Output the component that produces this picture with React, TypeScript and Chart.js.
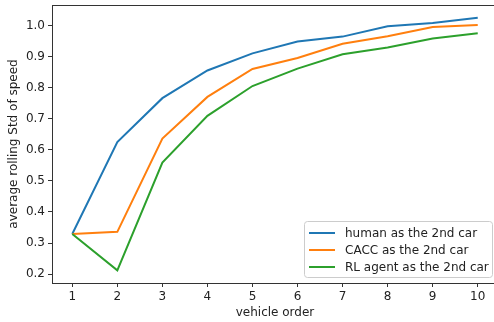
import { useEffect, useRef } from "react";
import { Chart, registerables } from "chart.js";

Chart.register(...registerables);

const vehicleOrder = [1, 2, 3, 4, 5, 6, 7, 8, 9, 10];
const humanStd = [0.329, 0.625, 0.766, 0.855, 0.91, 0.948, 0.964, 0.997, 1.008, 1.025];
const caccStd = [0.329, 0.336, 0.636, 0.77, 0.86, 0.895, 0.941, 0.965, 0.995, 1.001];
const rlStd = [0.329, 0.212, 0.559, 0.709, 0.805, 0.861, 0.907, 0.929, 0.958, 0.975];
const yTicks = [0.2, 0.3, 0.4, 0.5, 0.6, 0.7, 0.8, 0.9, 1.0];
const seriesLabels = ["human as the 2nd car", "CACC as the 2nd car", "RL agent as the 2nd car"];
const seriesColors = ["#1f77b4", "#ff7f0e", "#2ca02c"];

const FONT = "DejaVu Sans";
const TEXT = "#222222";
const SPINE = "#333333";

const framePlugin = {
  id: "frameTop",
  afterDraw(chart: any) {
    const { ctx, chartArea } = chart;
    ctx.save();
    ctx.strokeStyle = SPINE;
    ctx.lineWidth = 1;
    ctx.beginPath();
    ctx.moveTo(chartArea.left, Math.round(chartArea.top) + 0.5);
    ctx.lineTo(chartArea.right, Math.round(chartArea.top) + 0.5);
    ctx.moveTo(chartArea.right - 0.5, chartArea.top);
    ctx.lineTo(chartArea.right - 0.5, chartArea.bottom);
    ctx.stroke();
    ctx.restore();
  },
};

const legendPlugin = {
  id: "insideLegend",
  afterDraw(chart: any) {
    const { ctx, chartArea } = chart;
    const ds = chart.data.datasets;
    ctx.save();
    ctx.font = `12px "${FONT}"`;
    let maxW = 0;
    ds.forEach((d: any) => {
      maxW = Math.max(maxW, ctx.measureText(d.label).width);
    });
    const pad = 4.5;
    const handleLen = 26;
    const textPad = 10;
    const rowH = 17;
    const boxW = pad + handleLen + textPad + maxW + pad;
    const boxH = 56;
    const right = Math.round(chartArea.right - 6) + 0.5;
    const bottom = Math.round(chartArea.bottom - 6) + 0.5;
    const left = Math.round(right - boxW) + 0.5;
    const top = bottom - boxH;
    const r = 3;
    ctx.beginPath();
    ctx.moveTo(left + r, top);
    ctx.lineTo(right - r, top);
    ctx.arcTo(right, top, right, top + r, r);
    ctx.lineTo(right, bottom - r);
    ctx.arcTo(right, bottom, right - r, bottom, r);
    ctx.lineTo(left + r, bottom);
    ctx.arcTo(left, bottom, left, bottom - r, r);
    ctx.lineTo(left, top + r);
    ctx.arcTo(left, top, left + r, top, r);
    ctx.closePath();
    ctx.fillStyle = "rgba(255,255,255,0.8)";
    ctx.fill();
    ctx.strokeStyle = "#cccccc";
    ctx.lineWidth = 1;
    ctx.stroke();
    ds.forEach((d: any, i: number) => {
      const cy = Math.round(top + 11 + i * rowH);
      ctx.strokeStyle = d.borderColor;
      ctx.lineWidth = 2;
      ctx.beginPath();
      ctx.moveTo(left + pad, cy);
      ctx.lineTo(left + pad + handleLen, cy);
      ctx.stroke();
      ctx.fillStyle = TEXT;
      ctx.textBaseline = "middle";
      ctx.textAlign = "left";
      ctx.fillText(d.label, left + pad + handleLen + textPad, cy + 0.5);
    });
    ctx.restore();
  },
};

export default function App() {
  const ref = useRef<HTMLCanvasElement | null>(null);

  useEffect(() => {
    if (!ref.current) return;
    const series = [humanStd, caccStd, rlStd];
    const chart = new Chart(ref.current, {
      type: "line",
      data: {
        datasets: series.map((vals, i) => ({
          label: seriesLabels[i],
          data: vehicleOrder.map((x, j) => ({ x, y: vals[j] })),
          borderColor: seriesColors[i],
          backgroundColor: seriesColors[i],
          borderWidth: 2,
          pointRadius: 0,
          fill: false,
          tension: 0,
          order: 3 - i,
        })),
      },
      options: {
        animation: false,
        responsive: false,
        devicePixelRatio: 1,
        layout: { autoPadding: false, padding: { left: 0, right: 6, top: 5, bottom: 0 } },
        plugins: {
          legend: { display: false },
          tooltip: { enabled: false },
        },
        scales: {
          x: {
            type: "linear",
            min: 0.55,
            max: 10.45,
            afterBuildTicks: (s: any) => {
              s.ticks = vehicleOrder.map((v) => ({ value: v }));
            },
            afterFit: (s: any) => {
              s.height = 39;
              s.paddingLeft = 0;
              s.paddingRight = 0;
            },
            ticks: {
              color: TEXT,
              font: { family: FONT, size: 12 },
              padding: 3,
              maxRotation: 0,
              autoSkip: false,
              callback: (v: any) => String(v),
            },
            grid: { display: true, drawOnChartArea: false, drawTicks: true, tickLength: 4, color: SPINE },
            border: { display: true, color: SPINE, width: 1 },
            title: {
              display: true,
              text: "vehicle order",
              color: TEXT,
              font: { family: FONT, size: 12 },
              padding: { top: 0, bottom: 2 },
            },
          },
          y: {
            type: "linear",
            min: 0.1714,
            max: 1.0657,
            afterBuildTicks: (s: any) => {
              s.ticks = yTicks.map((v) => ({ value: v }));
            },
            afterFit: (s: any) => {
              s.width = 52;
              s.paddingTop = 0;
              s.paddingBottom = 0;
            },
            ticks: {
              color: TEXT,
              font: { family: FONT, size: 12 },
              padding: 3,
              autoSkip: false,
              callback: (v: any) => Number(v).toFixed(1),
            },
            grid: { display: true, drawOnChartArea: false, drawTicks: true, tickLength: 4, color: SPINE },
            border: { display: true, color: SPINE, width: 1 },
            title: {
              display: true,
              text: "average rolling Std of speed",
              color: TEXT,
              font: { family: FONT, size: 12 },
              padding: { top: 7, bottom: 0 },
            },
          },
        },
      },
      plugins: [framePlugin, legendPlugin],
    });
    return () => chart.destroy();
  }, []);

  return (
    <div style={{ position: "fixed", left: 0, top: 0, width: 494, height: 322, overflow: "hidden", background: "#fff" }}>
      <canvas ref={ref} width={504} height={322} style={{ width: 504, height: 322, display: "block" }} />
    </div>
  );
}
